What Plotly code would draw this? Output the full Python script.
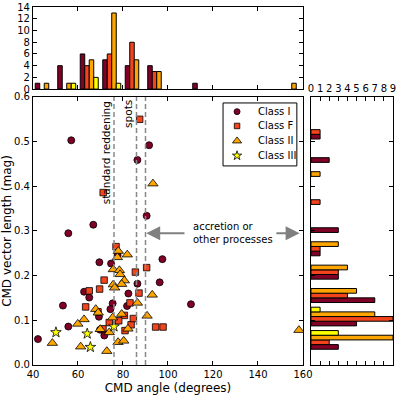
import plotly.graph_objects as go

# CMD angle (degrees) and CMD vector length (mag) for each class
class_i_angle = [57.0, 91.6, 86.4, 66.8, 55.7, 90.5, 97.5, 69.5, 74.7, 86.4, 96.3, 62.7, 82.4,
                 65.0, 53.3, 75.4, 81.8, 110.2, 74.4, 69.3, 55.7, 71.7, 42.2, 69.8, 77.6]
class_i_length = [0.503, 0.492, 0.459, 0.314, 0.295, 0.334, 0.237, 0.230, 0.227, 0.182, 0.185, 0.164, 0.160,
                  0.151, 0.133, 0.138, 0.132, 0.136, 0.125, 0.108, 0.086, 0.066, 0.058, 0.079, 0.246]

class_f_angle = [87.4, 71.2, 76.9, 90.5, 85.5, 71.6, 69.6, 65.0, 87.1, 83.1, 63.4, 68.9, 80.6,
                 73.9, 78.1, 83.6, 71.1, 94.5, 97.8, 80.9, 84.6]
class_f_length = [0.550, 0.386, 0.265, 0.218, 0.208, 0.190, 0.170, 0.166, 0.161, 0.139, 0.130, 0.119, 0.111,
                  0.095, 0.099, 0.090, 0.081, 0.085, 0.085, 0.077, 0.104]

class_ii_angle = [93.3, 77.9, 81.9, 77.5, 75.7, 78.4, 78.7, 80.6, 79.4, 75.7, 76.3, 93.0, 86.4, 67.9, 79.4,
                  75.4, 90.7, 62.7, 59.9, 69.9, 82.2, 73.9, 48.6, 77.8, 80.3, 61.2, 72.8, 158.2, 69.0]
class_ii_length = [0.406, 0.255, 0.247, 0.241, 0.214, 0.212, 0.203, 0.189, 0.181, 0.180, 0.173, 0.157, 0.139,
                   0.125, 0.114, 0.106, 0.110, 0.102, 0.092, 0.080, 0.081, 0.073, 0.049, 0.051, 0.054, 0.041,
                   0.031, 0.078, 0.117]

class_iii_angle = [76.0, 50.2, 64.1, 65.5]
class_iii_length = [0.086, 0.073, 0.070, 0.040]

# reference angles (dashed lines)
line_angles = [76, 86, 90]

classes = [
    ("Class I", class_i_angle, class_i_length, "#800026", "circle", 7),
    ("Class F", class_f_angle, class_f_length, "#F2441D", "square", 6.5),
    ("Class II", class_ii_angle, class_ii_length, "#FFA500", "triangle-up", 9),
    ("Class III", class_iii_angle, class_iii_length, "#FFFF00", "star", 8),
]

fig = go.Figure()

for name, ang, ln, col, sym, sz in classes:
    fig.add_trace(go.Scatter(
        x=ang, y=ln, mode="markers", name=name, showlegend=False,
        marker=dict(color=col, symbol=sym, size=sz, line=dict(color="black", width=0.8)),
        xaxis="x", yaxis="y",
    ))

# top histogram of angles
for name, ang, ln, col, sym, sz in classes:
    fig.add_trace(go.Histogram(
        x=ang, xbins=dict(start=40, end=160, size=10),
        marker=dict(color=col, line=dict(color="black", width=1)),
        showlegend=False, xaxis="x2", yaxis="y2",
    ))

# right histogram of lengths
for name, ang, ln, col, sym, sz in classes:
    fig.add_trace(go.Histogram(
        y=ln, orientation="h", ybins=dict(start=0.03, end=0.553, size=0.0523),
        marker=dict(color=col, line=dict(color="black", width=1)),
        showlegend=False, xaxis="x3", yaxis="y3",
    ))

for v in line_angles:
    fig.add_shape(type="line", xref="x", yref="y", x0=v, x1=v, y0=0, y1=0.6,
                  line=dict(color="#888888", width=1.5, dash="5px,3px"))

fig.add_annotation(x=76, y=0.596, xref="x", yref="y", text="standard reddening", textangle=-90,
                   showarrow=False, xanchor="right", yanchor="top", font=dict(size=10.5))
fig.add_annotation(x=86, y=0.599, xref="x", yref="y", text="spots", textangle=-90,
                   showarrow=False, xanchor="right", yanchor="top", font=dict(size=10.5))

fig.add_annotation(x=110.2, y=0.295, xref="x", yref="y", text="accretion or<br>other processes",
                   showarrow=False, xanchor="left", yanchor="middle", align="left", font=dict(size=10))
arrow = dict(xref="x", yref="y", axref="x", ayref="y", text="", showarrow=True,
             arrowhead=2, arrowsize=1.4, arrowwidth=2, arrowcolor="#808080")
fig.add_annotation(x=90.3, y=0.295, ax=108, ay=0.295, **arrow)
fig.add_annotation(x=158.5, y=0.295, ax=147.5, ay=0.295, **arrow)

# legend drawn as a small boxed key (tighter rows than the built-in legend)
leg_box = [0.559, 0.744, 0.581, 0.740]  # x0, x1, y0, y1 in paper units
fig.add_shape(type="rect", xref="paper", yref="paper", x0=leg_box[0], x1=leg_box[1],
              y0=leg_box[2], y1=leg_box[3], line=dict(color="black", width=1),
              fillcolor="white", layer="below")
leg_rows = [0.862, 0.635, 0.397, 0.163]
for (name, ang, ln, col, sym, sz), ry in zip(classes, leg_rows):
    fig.add_trace(go.Scatter(
        x=[0.19], y=[ry], mode="markers", showlegend=False, hoverinfo="skip",
        marker=dict(color=col, symbol=sym, size=sz - 1, line=dict(color="black", width=0.8)),
        xaxis="x4", yaxis="y4",
    ))
    fig.add_annotation(x=0.44, y=ry, xref="x4", yref="y4", text=name, showarrow=False,
                       xanchor="left", yanchor="middle", font=dict(size=10))

ax_style = dict(showline=True, linecolor="black", linewidth=1, mirror="ticks", ticks="inside",
                ticklen=4, tickcolor="black", showgrid=False, zeroline=False, automargin=False)
hidden = dict(visible=False, range=[0, 1], fixedrange=True)

main_x = [0.0827, 0.7594]
main_y = [0.0783, 0.7551]

fig.update_layout(
    width=399, height=396,
    margin=dict(l=0, r=0, t=0, b=0),
    paper_bgcolor="white", plot_bgcolor="rgba(0,0,0,0)",
    font=dict(family="DejaVu Sans", size=10, color="black"),
    barmode="group", bargap=0.2, bargroupgap=0,
    hovermode=False,
    xaxis=dict(domain=main_x, anchor="y", range=[40, 160], dtick=20,
               title=dict(text="CMD angle (degrees)", standoff=4), **ax_style),
    yaxis=dict(domain=main_y, anchor="x", range=[0, 0.6], dtick=0.1, tickformat=".1f",
               title=dict(text="CMD vector length (mag)", standoff=4), **ax_style),
    xaxis2=dict(domain=main_x, anchor="y2", range=[40, 160], dtick=20, showticklabels=False, **ax_style),
    yaxis2=dict(domain=[0.775, 0.982], anchor="x2", range=[0, 14], dtick=2, **ax_style),
    xaxis3=dict(domain=[0.7794, 0.985], anchor="y3", range=[0, 9], dtick=1, side="top", **ax_style),
    yaxis3=dict(domain=main_y, anchor="x3", range=[0, 0.6], dtick=0.1, showticklabels=False, **ax_style),
    xaxis4=dict(domain=leg_box[:2], anchor="y4", **hidden),
    yaxis4=dict(domain=leg_box[2:], anchor="x4", **hidden),
)

fig.write_html("out.html", config={"displayModeBar": False},
               post_script="document.body.style.margin='0';")
